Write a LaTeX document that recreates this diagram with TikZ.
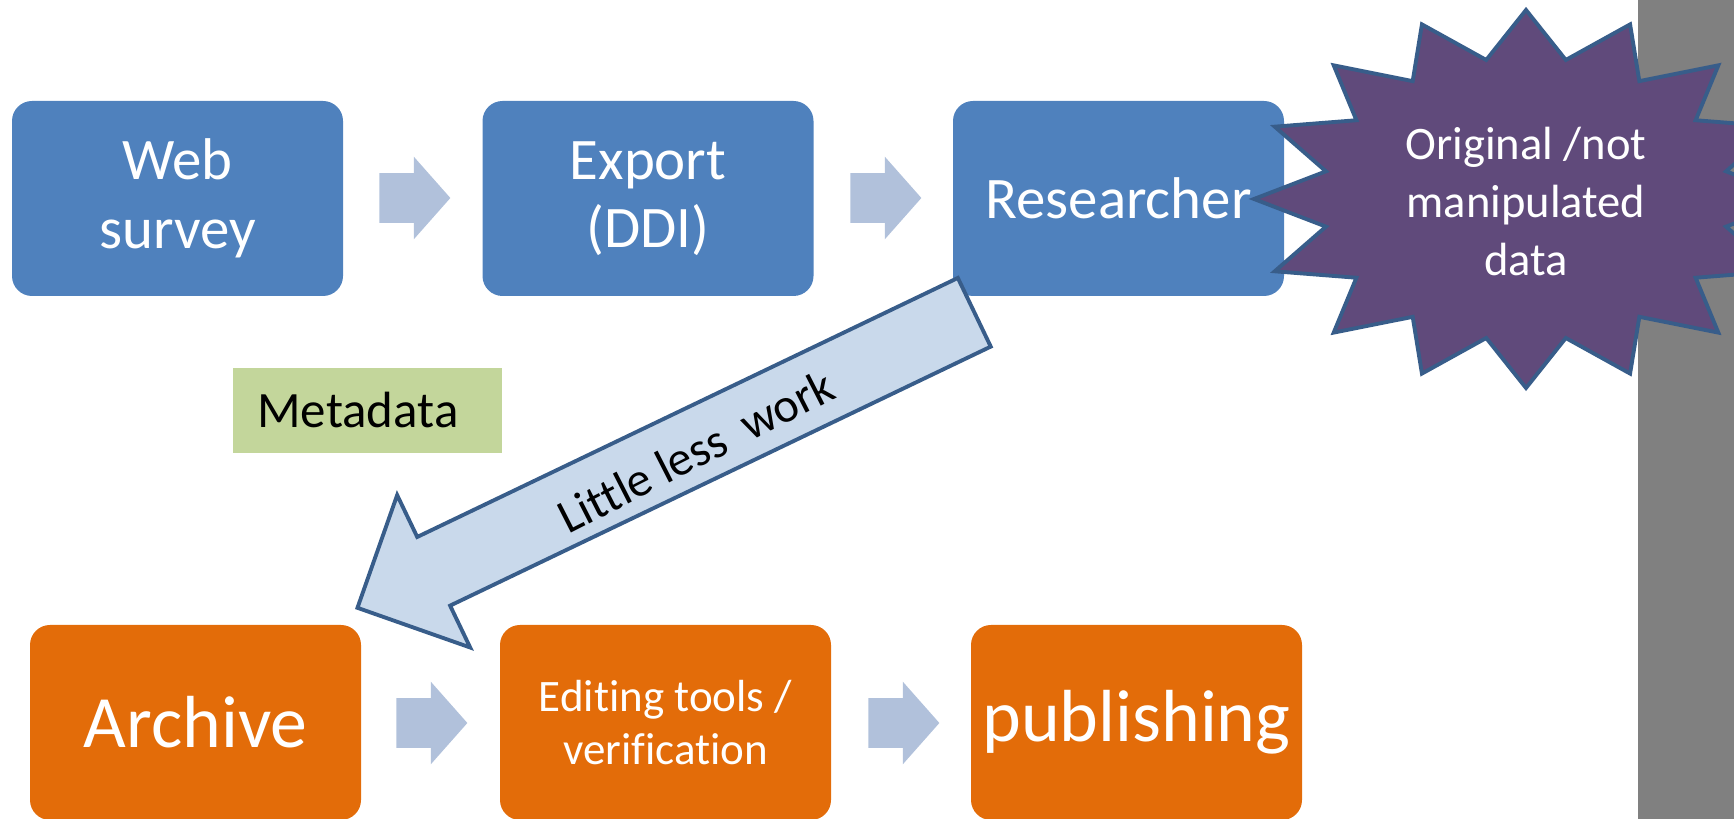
\documentclass[tikz,border=0pt]{standalone}
\usepackage{fontspec}
\setmainfont{Carlito}[Ligatures=NoCommon]
\usepackage{tikz}
\usetikzlibrary{shapes.arrows}
\definecolor{boxblue}{RGB}{79,129,189}
\definecolor{boxorange}{RGB}{227,108,9}
\definecolor{flowgrey}{RGB}{177,193,219}
\definecolor{burstpurple}{RGB}{96,74,123}
\definecolor{edgeblue}{RGB}{56,93,138}
\definecolor{paleblue}{RGB}{201,217,235}
\definecolor{metagreen}{RGB}{195,214,155}

\begin{document}
\begin{tikzpicture}[
    topbox/.style={rectangle, fill=boxblue, rounded corners=0.4cm,
                minimum width=6.62cm, minimum height=3.9cm, inner sep=0pt,
                text=white, align=center, font=\fontsize{33.5}{39}\selectfont},
    lowbox/.style={rectangle, fill=boxorange, rounded corners=0.4cm,
                minimum width=6.62cm, minimum height=3.9cm, inner sep=0pt,
                text=white, align=center, font=\fontsize{42}{48}\selectfont},
    flow/.style={single arrow, fill=flowgrey, inner xsep=0pt, inner ysep=0.49cm,
                minimum height=1.42cm, minimum width=1.64cm, anchor=tail,
                single arrow head extend=0.33cm, single arrow tip angle=97},
    burst/.style={fill=burstpurple, draw=edgeblue, line width=2.2pt, line join=miter},
    bigarrow/.style={single arrow, fill=paleblue, draw=edgeblue, line width=2.2pt,
                inner xsep=0pt, inner ysep=0.65cm, minimum height=13.68cm, minimum width=3.38cm,
                single arrow head extend=0.84cm, single arrow tip angle=90,
                shape border rotate=180, rotate=25.6}
]
\useasboundingbox (0,0) rectangle (34.68,16.38);
\clip (0,0) rectangle (34.68,16.38);

% grey strip on the right
\fill[gray] (32.76,0) rectangle (34.68,16.38);

% Upper row
\node[topbox] (web) at (3.55,12.41) {Web\\survey};
\node[topbox] (export) at (12.96,12.41) {Export\\(DDI)};
\node[topbox] (res) at (22.37,12.41) {Researcher};
\node[flow] (f1) at (7.58,12.42) {};
\node[flow] (f2) at (17.0,12.42) {};

% Lower row
\node[lowbox] (arch) at (3.91,1.93) {Archive};
\node[lowbox, font=\fontsize{25.6}{30}\selectfont] (edit) at (13.31,1.93) {Editing tools /\\verification};
\node[lowbox] (pub) at (22.73,1.93) {publishing};
\node[flow] (f3) at (7.92,1.92) {};
\node[flow] (f4) at (17.36,1.92) {};

% Metadata tag
\node[fill=metagreen, anchor=west, inner xsep=0.48cm, inner ysep=0pt,
      text width=4.42cm, align=left, minimum height=1.7cm,
      font=\fontsize{29}{34}\selectfont] (meta) at (4.66,8.17) {Metadata};

% Researcher down to the archive
\node[bigarrow, anchor=tip] (less) at (7.10,4.20) {};
\node[rotate=27, font=\fontsize{27.5}{32}\selectfont] (lesstxt) at (13.92,7.36) {Little less\ \ work};

% Starburst
\draw[burst] plot[samples at={0,...,31}, variable=\k]
    ({30.52+5.44*(1-0.25*mod(\k,2))*cos(90+11.25*\k)},
     {12.4+3.78*(1-0.25*mod(\k,2))*sin(90+11.25*\k)}) -- cycle;
\node[text=white, align=center, font=\fontsize{26.5}{33}\selectfont] (orig) at (30.52,12.34) {Original /not\\manipulated\\data};

\end{tikzpicture}
\end{document}
